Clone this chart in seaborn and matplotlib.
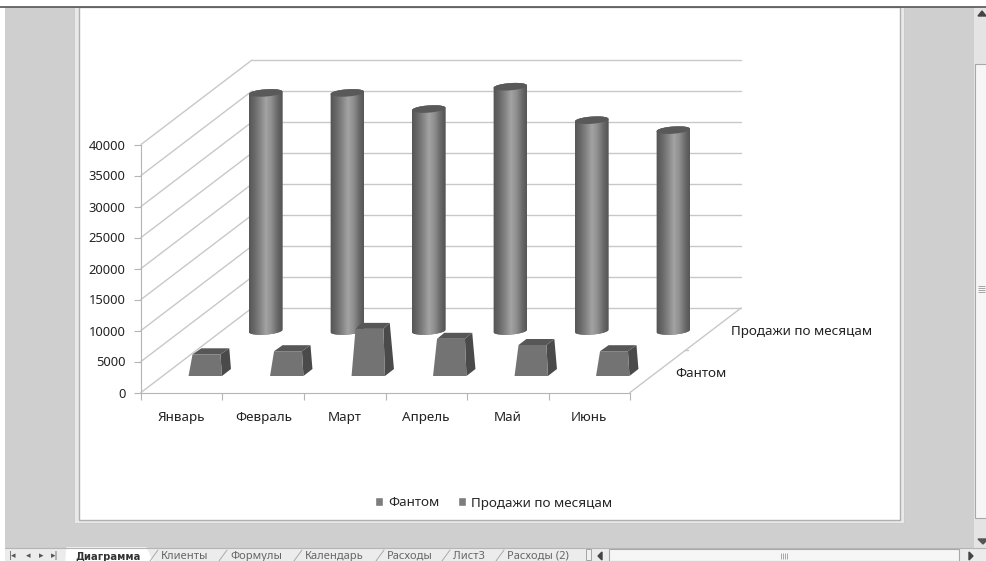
import numpy as np
import pandas as pd
import matplotlib
matplotlib.use("Agg")
import matplotlib.pyplot as plt
import seaborn as sns
from matplotlib.colors import LinearSegmentedColormap
from matplotlib.patches import Polygon, Rectangle

months = ["Январь", "Февраль", "Март", "Апрель", "Май", "Июнь"]
phantom = [3500, 4000, 7600, 6000, 5000, 4000]
sales = [38400, 38400, 35800, 39400, 34000, 32400]
series_names = ["Фантом", "Продажи по месяцам"]
value_ticks = [0, 5000, 10000, 15000, 20000, 25000, 30000, 35000, 40000]
sheet_tabs = ["Клиенты", "Формулы", "Календарь", "Расходы", "Лист3", "Расходы (2)"]
tab_x = [161, 230, 305, 387, 453, 507]

# pixels to data units, oblique 3d is done by shifting in data units
PX = 1 / 81.5
PY = 1000 / 6.2
WALL_X = 111 * PX
WALL_Y = 84.5 * PY

sns.set_style("white")
plt.rcParams["font.family"] = ["Noto Sans", "DejaVu Sans"]
plt.rcParams["font.size"] = 9.7

fig = plt.figure(figsize=(9.87, 5.61), dpi=100)

# excel window around the chart
bg = fig.add_axes([0, 0, 1, 1], zorder=-1)
bg.set_xlim(0, 987)
bg.set_ylim(561, 0)
bg.axis("off")
bg.add_patch(Rectangle((0, 0), 987, 561, fc="white", ec="none"))
bg.add_patch(Rectangle((5, 7), 970, 541, fc="#cfcfcf", ec="none"))
bg.plot([0, 987], [6.5, 6.5], color="#555555", lw=1.2)
bg.add_patch(Rectangle((74, 7), 830, 516, fc="#e9e9e9", ec="#c8c8c8", lw=0.6))
bg.add_patch(Rectangle((79, 7), 821, 513, fc="white", ec="#b0b0b0", lw=1.0))
# vertical scrollbar
bg.add_patch(Rectangle((974, 7), 13, 541, fc="#e4e4e4", ec="none"))
bg.add_patch(Rectangle((975, 64), 12, 454, fc="#f6f6f6", ec="#a8a8a8", lw=0.8))
bg.fill([978, 982, 986], [16, 11, 16], color="#444444")
bg.fill([978, 983, 988], [539, 544, 539], color="#555555")
bg.hlines([286, 288, 290, 292], 978, 985, color="#999999", lw=0.6)
# tab strip and horizontal scrollbar
bg.add_patch(Rectangle((5, 548), 982, 13, fc="#ececec", ec="none"))
bg.plot([5, 987], [548, 548], color="#b5b5b5", lw=0.8)
bg.add_patch(Rectangle((609, 549), 350, 12, fc="#f6f6f6", ec="#a8a8a8", lw=0.8))
bg.vlines([781, 783, 785, 787], 553, 559, color="#999999", lw=0.6)
bg.fill([969, 969, 973], [552, 560, 556], color="#444444")
bg.fill([602, 602, 598], [552, 560, 556], color="#444444")
for x, s in zip([13, 28, 41, 55], ["|◂", "◂", "▸", "▸|"]):
    bg.text(x, 556, s, fontsize=6.5, ha="center", va="center", color="#555555", family="DejaVu Sans")
bg.fill([66, 67, 146, 152], [561, 548, 548, 561], color="white")
bg.text(75, 556.5, "Диаграмма", fontsize=7.2, fontweight="bold", va="center", color="#333333", family="DejaVu Sans")
for x, s in zip(tab_x, sheet_tabs):
    bg.text(x, 556.5, s, fontsize=8, va="center", color="#666666")
    bg.plot([x - 11, x - 3], [561, 550], color="#aaaaaa", lw=0.7)
bg.add_patch(Rectangle((586, 549), 5, 11, fc="#f0f0f0", ec="#999999", lw=0.6))

# main axes sit on the front edge of the 3d box
ax = fig.add_axes([141 / 987, 1 - 392.5 / 561, 489 / 987, 248 / 561], facecolor="none")

df = pd.DataFrame({
    "month": months * 2,
    "series": [series_names[0]] * 6 + [series_names[1]] * 6,
    "value": phantom + sales,
})
sns.barplot(data=df, x="month", y="value", hue="series", hue_order=series_names,
            palette=["#737373", "#737373"], saturation=1, dodge=False, width=0.41,
            errorbar=None, ax=ax)
ax.set_xlim(-0.5, 5.5)
ax.set_ylim(0, 40000)
ax.set_xlabel("")
ax.set_ylabel("")
ax.set_yticks(value_ticks)
ax.set_xticks(range(6), months)
ax.set_xticks(np.arange(-0.5, 6), minor=True)

sns.despine(ax=ax)
ax.spines["left"].set_color("#b5b5b5")
ax.spines["bottom"].set_color("#b5b5b5")
ax.tick_params(axis="y", which="major", length=5, width=0.8, color="#b5b5b5", left=True, pad=6,
               labelcolor="#222222", labelsize=9.3)
ax.tick_params(axis="x", which="major", length=0, pad=13, labelcolor="#222222")
ax.tick_params(axis="x", which="minor", length=5, width=0.8, color="#b5b5b5", bottom=True)

# walls and floor
grid = dict(color="#c8c8c8", lw=1.0, zorder=1, clip_on=False)
for v in value_ticks:
    ax.plot([-0.5, -0.5 + WALL_X], [v, v + WALL_Y], **grid)
    ax.plot([-0.5 + WALL_X, 5.5 + WALL_X], [v + WALL_Y, v + WALL_Y], **grid)
ax.plot([5.5, 5.5 + WALL_X], [0, WALL_Y], **grid)
ax.plot([5.5 + WALL_X / 2 - 0.02, 5.5 + WALL_X / 2 + 0.03], [WALL_Y / 2, WALL_Y / 2], **grid)

cyl_cmap = LinearSegmentedColormap.from_list(
    "cyl", ["#565656", "#6a6a6a", "#858585", "#a3a3a3", "#8f8f8f", "#6a6a6a", "#525252"])
shade = np.linspace(0, 1, 80).reshape(1, -1)


def ellipse_pts(cx, cy, w, t):
    # slightly tilted ellipse like excel draws it
    return np.column_stack([cx + w / 2 * np.cos(t),
                            cy + 3.6 * PY * np.sin(t) + 1.2 * PY * np.cos(t)])


# sales bars become cylinders
sales_x, sales_y = 84 * PX, 61.5 * PY
for bar in ax.containers[1]:
    x0 = bar.get_x() + sales_x
    w = bar.get_width()
    top = bar.get_height() + sales_y
    bar.set_visible(False)
    cx = x0 + w / 2
    low = ellipse_pts(cx, sales_y, w, np.linspace(np.pi, 2 * np.pi, 30))
    up = ellipse_pts(cx, top, w, np.linspace(0, np.pi, 30))
    body = Polygon(np.vstack([low, up]), fc="#737373", ec="none", zorder=2, clip_on=False)
    ax.add_patch(body)
    im = ax.imshow(shade, cmap=cyl_cmap, extent=(x0, x0 + w, 0, top + 1000), aspect="auto", zorder=2.1)
    im.set_clip_path(body)
    im.set_clip_box(fig.bbox)
    cap = ellipse_pts(cx, top, w, np.linspace(0, 2 * np.pi, 60))
    ax.add_patch(Polygon(cap, fc="#595959", ec="none", zorder=2.2, clip_on=False))

# phantom bars become tapered blocks
ph_x, ph_y = 23.5 * PX, 16.5 * PY
for bar in ax.containers[0]:
    x0 = bar.get_x() + ph_x
    x1 = x0 + bar.get_width()
    h = bar.get_height()
    y0, y1 = ph_y, ph_y + h
    bar.set_visible(False)
    fl, fr = x0 + 4 * PX, x1 - 1.5 * PX
    back_dx = 11 * PX - 0.1 * (h / PY) * PX
    br = x1 + 9 * PX
    top_r = fr + back_dx
    top_l = fl + back_dx
    ax.add_patch(Polygon([(x1, y0), (br, y0 + 7 * PY), (top_r, y1 + 6 * PY), (fr, y1)],
                         fc="#4a4a4a", ec="none", zorder=3, clip_on=False))
    ax.add_patch(Polygon([(fl, y1), (fr, y1), (top_r, y1 + 6 * PY), (top_l, y1 + 6 * PY)],
                         fc="#575757", ec="none", zorder=3, clip_on=False))
    ax.add_patch(Polygon([(x0, y0), (x1, y0), (fr, y1), (fl, y1)],
                         fc="#737373", ec="none", zorder=3.1, clip_on=False))

# depth axis labels
ax.text(5.5 + 0.56, 3000, series_names[0], ha="left", va="center", color="#222222", clip_on=False)
ax.text(5.5 + 1.24, 9900, series_names[1], ha="left", va="center", color="#222222", clip_on=False)

sns.move_legend(ax, "center", bbox_to_anchor=(493.5 / 987, 1 - 503 / 561), bbox_transform=fig.transFigure,
                ncol=2, frameon=False, title=None, handlelength=0.6, handleheight=0.6,
                handletextpad=0.35, columnspacing=1.4, fontsize=9.7)
for h in ax.get_legend().legend_handles:
    h.set_facecolor("#7d7d7d")

fig.savefig("out.png", dpi=100)
